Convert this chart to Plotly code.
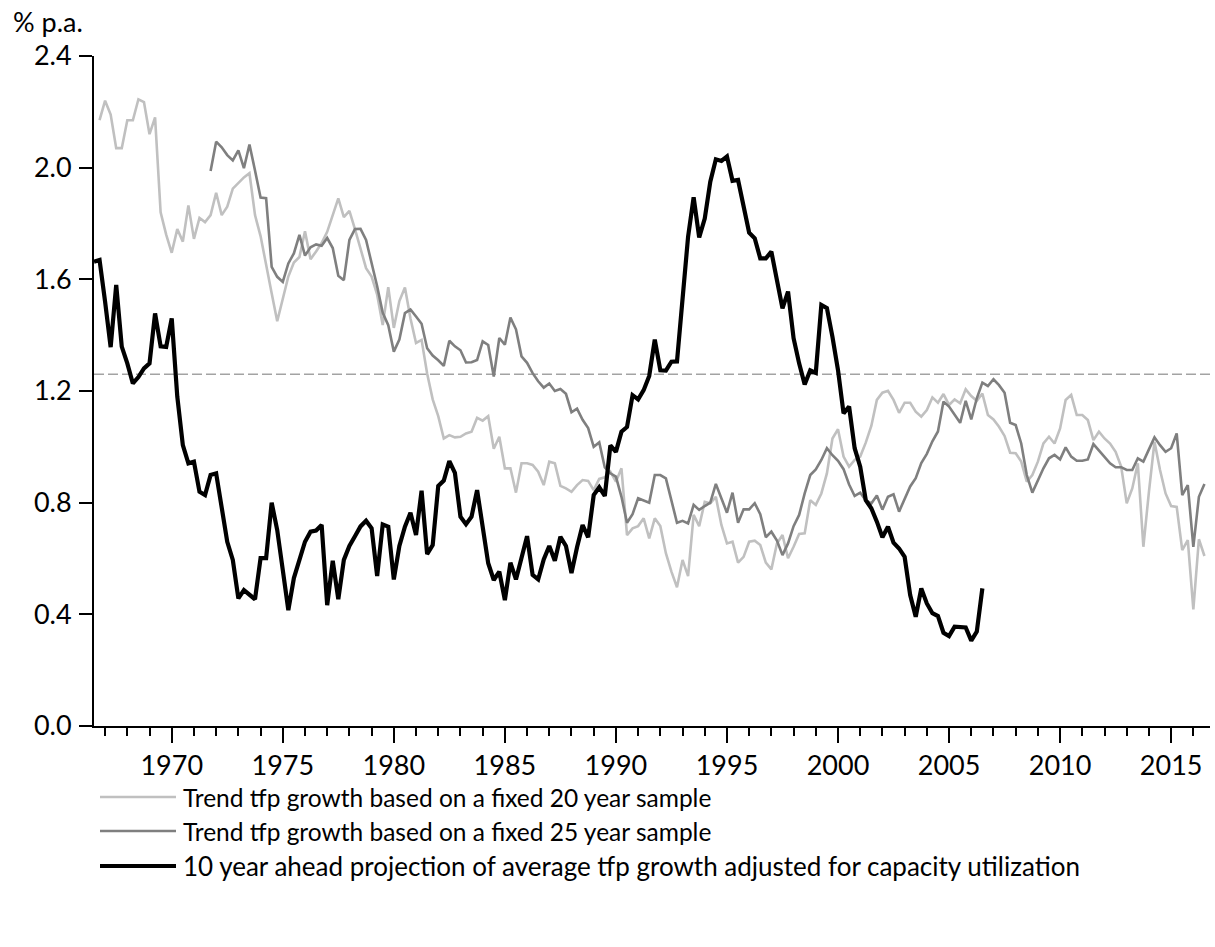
import plotly.graph_objects as go

# ---------------- data (quarterly) ----------------
TREND_20Y_START = 1966.75
TREND_25Y_START = 1971.75
PROJ_START = 1966.5
QUARTER = 0.25

trend_20y = [
    2.17, 2.24, 2.19, 2.07, 2.07, 2.17, 2.17, 2.245, 2.235, 2.12,
    2.18, 1.84, 1.76, 1.695, 1.78, 1.735, 1.865, 1.745, 1.82, 1.805,
    1.83, 1.91, 1.83, 1.86, 1.925, 1.945, 1.965, 1.98, 1.83, 1.755,
    1.645, 1.55, 1.45, 1.525, 1.61, 1.66, 1.68, 1.772, 1.672, 1.70,
    1.73, 1.77, 1.83, 1.89, 1.823, 1.845, 1.78, 1.71, 1.64, 1.61,
    1.545, 1.436, 1.572, 1.426, 1.522, 1.571, 1.46, 1.372, 1.383, 1.263,
    1.17, 1.11, 1.03, 1.042, 1.034, 1.036, 1.048, 1.054, 1.104, 1.094,
    1.11, 0.993, 1.036, 0.923, 0.923, 0.836, 0.941, 0.941, 0.935, 0.911,
    0.863, 0.947, 0.941, 0.86, 0.851, 0.839, 0.863, 0.881, 0.878, 0.845,
    0.885, 0.891, 0.911, 0.875, 0.923, 0.684, 0.708, 0.716, 0.744, 0.672,
    0.744, 0.716, 0.619, 0.553, 0.497, 0.595, 0.537, 0.756, 0.716, 0.803,
    0.798, 0.821, 0.72, 0.654, 0.66, 0.585, 0.606, 0.66, 0.664, 0.648,
    0.585, 0.561, 0.654, 0.684, 0.601, 0.642, 0.688, 0.69, 0.809, 0.792,
    0.833, 0.905, 1.03, 1.063, 0.965, 0.929, 0.953, 0.965, 1.015, 1.075,
    1.168, 1.194, 1.201, 1.168, 1.122, 1.158, 1.158, 1.126, 1.108, 1.132,
    1.177, 1.158, 1.189, 1.15, 1.17, 1.156, 1.206, 1.182, 1.165, 1.191,
    1.114, 1.098, 1.072, 1.039, 0.979, 0.977, 0.947, 0.875, 0.899, 0.947,
    1.012, 1.036, 1.012, 1.066, 1.168, 1.186, 1.114, 1.114, 1.096, 1.024,
    1.054, 1.03, 1.012, 0.982, 0.929, 0.798, 0.851, 0.941, 0.642, 0.839,
    1.018, 0.917, 0.833, 0.788, 0.785, 0.63, 0.666, 0.418, 0.669, 0.609,
]

trend_25y = [
    1.988, 2.093, 2.073, 2.045, 2.026, 2.062, 1.998, 2.083, 1.99, 1.893,
    1.891, 1.645, 1.609, 1.591, 1.657, 1.693, 1.759, 1.685, 1.715, 1.725,
    1.72, 1.748, 1.712, 1.613, 1.597, 1.741, 1.78, 1.781, 1.741, 1.66,
    1.575, 1.48, 1.436, 1.341, 1.384, 1.479, 1.492, 1.467, 1.441, 1.353,
    1.327, 1.31, 1.29, 1.38, 1.36, 1.346, 1.302, 1.303, 1.311, 1.378,
    1.365, 1.252, 1.39, 1.366, 1.463, 1.421, 1.324, 1.301, 1.264, 1.235,
    1.212, 1.227, 1.2, 1.207, 1.19, 1.124, 1.137, 1.097, 1.067, 1.0,
    1.016, 0.926, 0.905, 0.893, 0.821, 0.728, 0.759, 0.816, 0.807, 0.8,
    0.899, 0.899, 0.887, 0.809, 0.728, 0.735, 0.726, 0.792, 0.774, 0.788,
    0.8, 0.867, 0.816, 0.764, 0.836, 0.728, 0.776, 0.776, 0.798, 0.759,
    0.676, 0.696, 0.664, 0.612, 0.654, 0.716, 0.756, 0.833, 0.899, 0.919,
    0.953, 0.995, 0.97, 0.95, 0.92, 0.865, 0.824, 0.836, 0.808, 0.797,
    0.826, 0.775, 0.821, 0.83, 0.768, 0.816, 0.858, 0.888, 0.942, 0.975,
    1.02, 1.055, 1.162, 1.144, 1.114, 1.086, 1.165, 1.098, 1.174, 1.23,
    1.218, 1.242, 1.221, 1.194, 1.086, 1.078, 1.012, 0.899, 0.836, 0.879,
    0.923, 0.959, 0.971, 0.955, 0.998, 0.965, 0.95, 0.95, 0.955, 1.01,
    0.986, 0.962, 0.941, 0.927, 0.927, 0.917, 0.917, 0.959, 0.947, 0.991,
    1.034, 1.006, 0.982, 0.995, 1.048, 0.827, 0.863, 0.642, 0.821, 0.867,
]

projection_10y = [
    1.663, 1.669, 1.52, 1.357, 1.58, 1.359, 1.299, 1.227, 1.25, 1.281,
    1.299, 1.478, 1.36, 1.358, 1.46, 1.18, 1.006, 0.941, 0.947, 0.839,
    0.827, 0.899, 0.905, 0.78, 0.66, 0.595, 0.457, 0.487, 0.469, 0.454,
    0.601, 0.601, 0.80, 0.702, 0.559, 0.415, 0.53, 0.59, 0.66, 0.696,
    0.70, 0.72, 0.433, 0.592, 0.454, 0.595, 0.645, 0.68, 0.715, 0.735,
    0.708, 0.537, 0.722, 0.714, 0.525, 0.645, 0.714, 0.764, 0.684, 0.843,
    0.616, 0.648, 0.86, 0.879, 0.949, 0.907, 0.75, 0.723, 0.75, 0.845,
    0.702, 0.583, 0.523, 0.553, 0.451, 0.585, 0.525, 0.601, 0.68, 0.541,
    0.525, 0.597, 0.645, 0.592, 0.678, 0.645, 0.548, 0.64, 0.72, 0.676,
    0.827, 0.855, 0.824, 1.005, 0.982, 1.054, 1.071, 1.185, 1.17, 1.203,
    1.254, 1.384, 1.274, 1.273, 1.305, 1.306, 1.55, 1.753, 1.894, 1.75,
    1.818, 1.95, 2.03, 2.024, 2.04, 1.953, 1.956, 1.862, 1.767, 1.747,
    1.675, 1.675, 1.699, 1.597, 1.496, 1.556, 1.389, 1.299, 1.223, 1.274,
    1.265, 1.508, 1.497, 1.394, 1.275, 1.12, 1.144, 0.995, 0.929, 0.809,
    0.78, 0.732, 0.676, 0.714, 0.657, 0.636, 0.606, 0.469, 0.391, 0.493,
    0.439, 0.404, 0.394, 0.334, 0.322, 0.356, 0.353, 0.353, 0.306, 0.338,
    0.493,
]

mean_level = 1.26

series_names = [
    "Trend tfp growth based on a fixed 20 year sample",
    "Trend tfp growth based on a fixed 25 year sample",
    "10 year ahead projection of average tfp growth adjusted for capacity utilization",
]
y_tick_values = [0.0, 0.4, 0.8, 1.2, 1.6, 2.0, 2.4]
x_tick_labels = [1970, 1975, 1980, 1985, 1990, 1995, 2000, 2005, 2010, 2015]
y_unit_label = "% p.a."


def quarters(start, n):
    return [start + QUARTER * k for k in range(n)]


FONT = "Lato, 'Open Sans', Arial, sans-serif"
colors = ["#c0c0c0", "#7f7f7f", "#000000"]
widths = [2.6, 2.6, 4.2]
legend_font_sizes = [24.5, 24.5, 26]

fig = go.Figure()
series = [
    (quarters(TREND_20Y_START, len(trend_20y)), trend_20y),
    (quarters(TREND_25Y_START, len(trend_25y)), trend_25y),
    (quarters(PROJ_START, len(projection_10y)), projection_10y),
]
for (xs, ys), name, c, w in zip(series, series_names, colors, widths):
    fig.add_trace(go.Scatter(x=xs, y=ys, mode="lines", name=name,
                             line=dict(color=c, width=w), showlegend=False))

fig.add_hline(y=mean_level, line=dict(color="#a3a3a3", width=1.5, dash="10px,4px"),
              layer="below")

fig.update_layout(
    width=1215, height=947,
    margin=dict(l=94, r=5, t=56, b=221),
    plot_bgcolor="white", paper_bgcolor="white",
    font=dict(family=FONT, color="black"),
    showlegend=False,
)
fig.update_xaxes(
    range=[1966.5, 2016.75],
    tickmode="array", tickvals=x_tick_labels, ticktext=[str(v) for v in x_tick_labels],
    ticks="outside", ticklen=15, tickwidth=1.5, tickcolor="black",
    minor=dict(dtick=1, tick0=1970, ticks="outside", ticklen=8, tickwidth=1.5, tickcolor="black"),
    showline=True, linecolor="black", linewidth=2,
    showgrid=False, zeroline=False,
    tickfont=dict(size=27, family=FONT), ticklabelstandoff=0,
)
fig.update_yaxes(
    range=[0, 2.4],
    tickmode="array", tickvals=y_tick_values, ticktext=[f"{v:.1f}" for v in y_tick_values],
    ticks="outside", ticklen=13, tickwidth=1.5, tickcolor="black",
    showline=True, linecolor="black", linewidth=2,
    showgrid=False, zeroline=False,
    tickfont=dict(size=27, family=FONT), ticklabelstandoff=2,
)

# unit label
fig.add_annotation(text=y_unit_label, xref="paper", yref="paper",
                   x=-0.074, y=1.051, xanchor="left", yanchor="middle",
                   showarrow=False, font=dict(size=27, family=FONT, color="black"))

# manual legend below the plot
legend_rows_px = [797, 831, 866]
plot_top, plot_bottom, plot_left, plot_w = 56, 726, 94, 1116
for name, c, w, ypx, fs in zip(series_names, colors, widths, legend_rows_px, legend_font_sizes):
    yp = (plot_bottom - ypx) / (plot_bottom - plot_top)
    fig.add_shape(type="line", xref="paper", yref="paper",
                  x0=(100 - plot_left) / plot_w, x1=(176 - plot_left) / plot_w,
                  y0=yp, y1=yp, line=dict(color=c, width=w))
    fig.add_annotation(text=name, xref="paper", yref="paper",
                       x=(181 - plot_left) / plot_w, y=yp, xanchor="left", yanchor="middle",
                       showarrow=False, font=dict(size=fs, family=FONT, color="black"))

fig.write_html("out.html", config={"displayModeBar": False},
               post_script="document.body.style.margin='0';document.body.style.overflow='hidden';")
